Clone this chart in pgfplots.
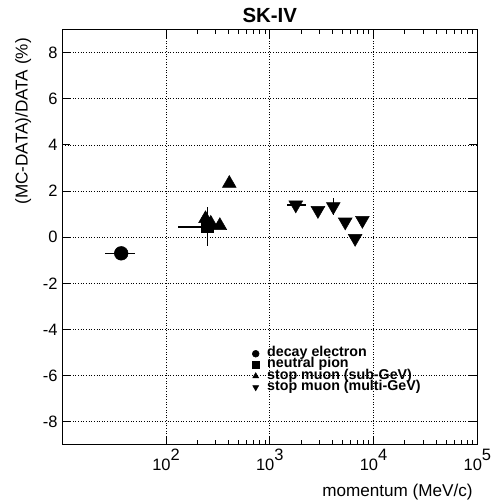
\documentclass[border=0pt]{standalone}
\usepackage{fontspec}
\setmainfont{Liberation Sans}
\usepackage{pgfplots}
\pgfplotsset{compat=1.18}
\begin{document}
\begin{tikzpicture}
\begin{axis}[
  name=ax,
  scale only axis,
  width=315pt, height=315pt,
  xmode=log,
  xmin=10, xmax=1e5,
  ymin=-9, ymax=9,
  xtick={100,1000,10000,100000},
  xticklabels={10\raisebox{0.6em}{2},10\raisebox{0.6em}{3},10\raisebox{0.6em}{4},10\raisebox{0.6em}{5}},
  ytick={-8,-6,-4,-2,0,2,4,6,8},
  /pgf/number format/assume math mode=true,
  tick label style={font=\fontsize{12.5}{13}\selectfont},
  grid=major,
  major grid style={black, line width=0.6pt, dash pattern=on 0.7pt off 1.3pt},
  tick align=inside,
  major tick length=6pt,
  minor tick length=3.5pt,
  tick style={black, line width=0.7pt},
  axis line style={line width=1.1pt},
  title={\bfseries SK-IV},
  title style={font=\fontsize{15.5}{16}\selectfont, yshift=-4pt},
  xlabel={momentum (MeV/c)},
  ylabel={(MC-DATA)/DATA (\%)},
  label style={font=\fontsize{13}{14}\selectfont},
  xlabel style={at={(rel axis cs:1,0)}, anchor=north east, yshift=-26pt, xshift=0pt},
  ylabel style={at={(rel axis cs:0,1)}, anchor=south east, yshift=20pt, xshift=-3pt},
  legend style={draw=none, fill=none, at={(axis cs:674,-4.8)}, anchor=north west,
    font=\fontsize{10.8}{10.8}\selectfont\bfseries, row sep=0pt, inner sep=0pt,
    nodes={inner sep=0pt, text height=6.5pt, text depth=2pt}},
  legend cell align=left,
  legend image code/.code={\draw[#1, mark size=2.6pt] plot coordinates {(0cm,0cm)};\path (0.3cm,0cm);},
  error bars/error bar style={line width=1.1pt, black},
  error bars/error mark=none,
]
% decay electron
\addplot[only marks, mark=*, mark size=5.2pt, black,
  error bars/.cd, x dir=both, x explicit]
  coordinates {(37,-0.70) -= (11,0) += (13,0)};
\addlegendentry{decay electron}
% neutral pion
\addplot[only marks, mark=square*, mark size=4.5pt, black,
  error bars/.cd, x dir=both, x explicit, y dir=both, y explicit]
  coordinates {(250,0.45) -= (120,0.85) += (30,0.85)};
\addlegendentry{neutral pion}
% stop muon sub-GeV
\addplot[only marks, mark=triangle*, mark size=6pt, black]
  coordinates {(240,0.80) (270,0.60) (330,0.50) (407,2.33)};
\addlegendentry{stop muon (sub-GeV)}
% stop muon multi-GeV
\addplot[only marks, mark=triangle*, mark options={rotate=180}, mark size=6pt, black,
  error bars/.cd, x dir=both, x explicit, y dir=both, y explicit]
  coordinates {
    (1780,1.40) -= (330,0) += (470,0)
    (2910,1.16) -= (0,0) += (0,0)
    (4090,1.33) -= (0,0.35) += (0,0.35)
    (5330,0.66) -= (0,0) += (0,0)
    (6640,-0.05) -= (0,0) += (0,0)
    (7800,0.73) -= (0,0) += (0,0)
  };
\addlegendentry{stop muon (multi-GeV)}
\end{axis}
\path ([xshift=-47.25pt,yshift=-40.5pt]ax.south west) rectangle ([xshift=13.5pt,yshift=22.5pt]ax.north east);
\end{tikzpicture}
\end{document}
